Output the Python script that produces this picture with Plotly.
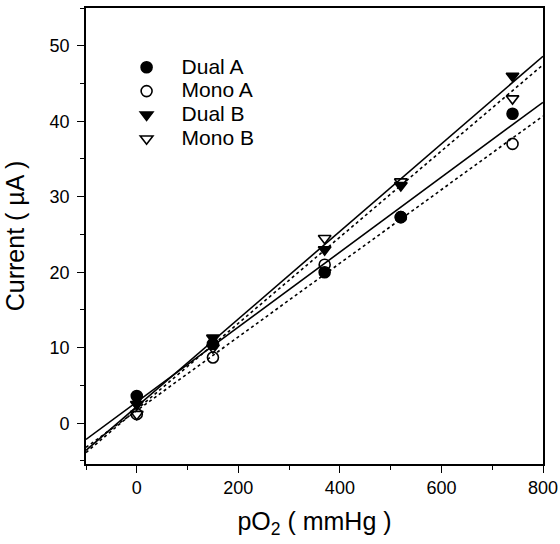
import numpy as np
import plotly.graph_objects as go

po2 = [0, 150, 370, 520, 740]
dual_a = [3.6, 10.5, 20.0, 27.3, 41.0]
mono_a = [1.2, 8.7, 21.0, 27.3, 37.0]
dual_b = [2.5, 11.3, 23.0, 31.5, 46.0]
mono_b = [1.2, 10.0, 24.5, 32.0, 43.0]
series_names = ["Dual A", "Mono A", "Dual B", "Mono B"]
x_ticks = [0, 200, 400, 600, 800]
y_ticks = [0, 10, 20, 30, 40, 50]
fit_range = [-100, 800]

series = [dual_a, mono_a, dual_b, mono_b]
symbols = ["circle", "circle-open", "triangle-down", "triangle-down-open"]
dashes = ["solid", "dot", "solid", "dot"]
font_family = "Liberation Sans, Arial, sans-serif"

fig = go.Figure()
xf = np.array(fit_range, dtype=float)
for name, ys, dash in zip(series_names, series, dashes):
    k, b = np.polyfit(po2, ys, 1)
    fig.add_trace(go.Scatter(x=xf, y=k * xf + b, mode="lines", showlegend=False,
                             line=dict(color="black", width=1.6, dash=dash), hoverinfo="skip"))
for name, ys, sym in zip(series_names, series, symbols):
    fig.add_trace(go.Scatter(x=po2, y=ys, mode="markers",
                             name='<span style="font-size:21px">' + name + '</span>',
                             marker=dict(symbol=sym, size=11, color="black",
                                         line=dict(color="black", width=1.6))))

axis_common = dict(showline=True, linecolor="black", linewidth=1.6, mirror=True,
                   ticks="outside", ticklen=7, tickwidth=1.3, tickcolor="black",
                   showgrid=False, zeroline=False, automargin=False,
                   tickfont=dict(family=font_family, size=18, color="black"))

fig.update_xaxes(range=[-100, 800], tickvals=x_ticks,
                 minor=dict(dtick=100, ticks="outside", ticklen=4, tickcolor="black", tickwidth=1.2),
                 title=dict(text="pO<sub>2</sub> ( mmHg )", font=dict(family=font_family, size=25, color="black"), standoff=15),
                 **axis_common)
fig.update_yaxes(range=[-5.4, 55], tickvals=y_ticks,
                 minor=dict(dtick=5, ticks="outside", ticklen=4, tickcolor="black", tickwidth=1.2),
                 ticklabelstandoff=4,
                 title=dict(text="Current ( µA )", font=dict(family=font_family, size=25, color="black"), standoff=18),
                 **axis_common)

fig.update_layout(width=560, height=544, margin=dict(l=86, r=17, t=8, b=80, autoexpand=False),
                  plot_bgcolor="white", paper_bgcolor="white",
                  legend=dict(x=0.056, y=0.907, xanchor="left", yanchor="top", bgcolor="rgba(0,0,0,0)",
                              font=dict(family=font_family, size=16, color="black"),
                              tracegroupgap=0, itemwidth=60))
fig.write_html("out.html", config={"displayModeBar": False},
               post_script="document.body.style.margin='0';document.body.style.overflow='hidden';")
